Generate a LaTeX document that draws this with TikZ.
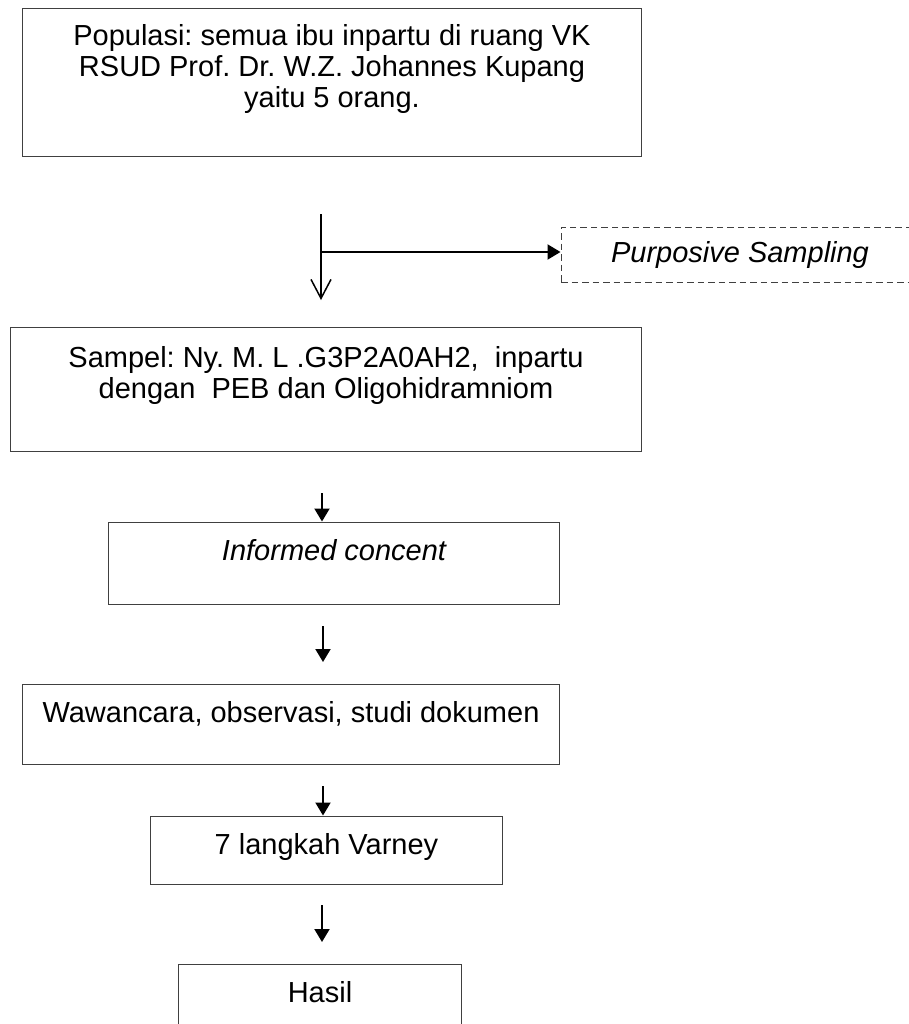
\documentclass[tikz,border=0pt]{standalone}
\usepackage{fontspec}
\setmainfont{Liberation Sans}
\usetikzlibrary{arrows.meta,positioning}
\frenchspacing

\tikzset{
  kotak/.style={draw=black!75, line width=0.2mm, rectangle, inner sep=0pt},
  isi/.style={align=center, anchor=north, inner sep=0pt, yshift=-3.6mm,
    font=\fontsize{16.5}{17.6}\selectfont},
  panah/.style={-{Triangle[length=2.6mm,width=3mm]}, line width=0.4mm},
}

\begin{document}
\begin{tikzpicture}[x=0.2mm, y=-0.2mm]
\useasboundingbox (0,0) rectangle (909,1024);
% kotak-kotak alur
\node[kotak, minimum width=123.6mm, minimum height=29.6mm,
  label={[isi, yshift=0.3mm]north:{Populasi: semua ibu inpartu di ruang VK\\RSUD Prof. Dr. W.Z. Johannes Kupang\\yaitu 5 orang.}}]
  (populasi) at (332,82) {};
\node[kotak, minimum width=126mm, minimum height=24.8mm,
  label={[isi, yshift=-0.3mm]north:{Sampel: Ny. M. L .G3P2A0AH2,~ inpartu\\dengan~ PEB dan Oligohidramniom}}]
  (sampel) at (326,389) {};
\node[kotak, minimum width=90mm, minimum height=16.4mm,
  label={[isi]north:{\itshape Informed concent}}]
  (informed) at (334,563) {};
\node[kotak, minimum width=107.2mm, minimum height=16mm,
  label={[isi]north:{Wawancara, observasi, studi dokumen}}]
  (wawancara) at (291,724) {};
\node[kotak, minimum width=70.2mm, minimum height=13.6mm,
  label={[isi]north:{7 langkah Varney}}]
  (varney) at (326.5,850) {};
\node[kotak, minimum width=56.4mm, minimum height=13.2mm,
  label={[isi]north:{Hasil}}]
  (hasil) at (320,997) {};
\node[kotak, dash pattern=on 1.3mm off 0.8mm, minimum width=71.6mm, minimum height=11mm,
  font=\fontsize{16.5}{17.6}\selectfont\itshape]
  (sampling) at (740,254.5) {Purposive Sampling};

% panah
\coordinate (v1) at (321,214);
\coordinate (v2) at (321,300);
\coordinate (cabang) at (321,252);
\draw[line width=0.4mm, -{Straight Barb[length=3.8mm,width=4mm,line width=0.3mm]}] (v1) -- (v2);
\draw[panah] (cabang) -- (cabang -| sampling.west);
\coordinate (p1) at (322,493);
\draw[panah] (p1) -- (p1 |- informed.north);
\coordinate (p2a) at (323,626);
\coordinate (p2b) at (323,662);
\draw[panah] (p2a) -- (p2b);
\coordinate (p3) at (323,786);
\draw[panah] (p3) -- (p3 |- varney.north);
\coordinate (p4a) at (322,905);
\coordinate (p4b) at (322,942);
\draw[panah] (p4a) -- (p4b);
\end{tikzpicture}
\end{document}
